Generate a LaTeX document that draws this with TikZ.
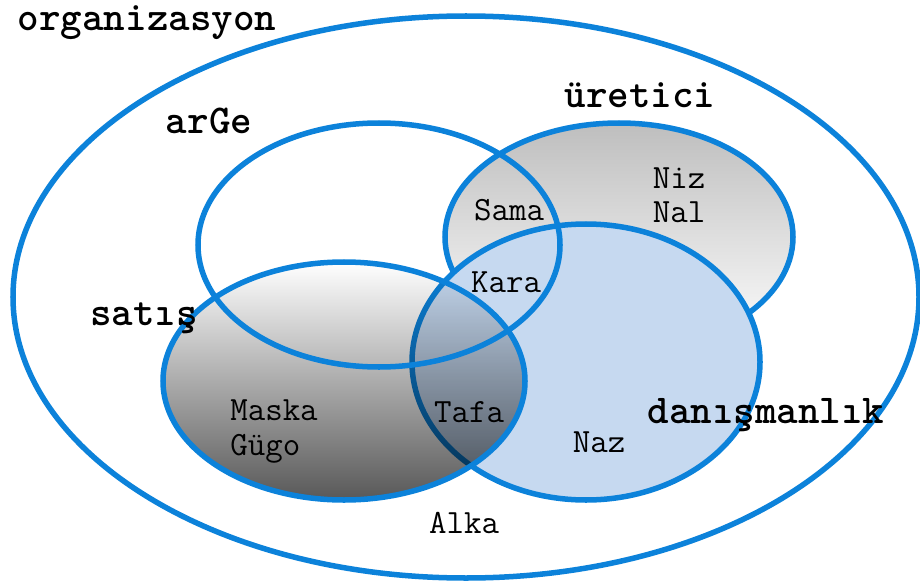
\documentclass[tikz,border=0pt]{standalone}
\usepackage{fontspec}
\usepackage{tikz}
\definecolor{vennblue}{RGB}{12,130,218}
\definecolor{danisblue}{RGB}{198,217,240}
\definecolor{uretgray}{RGB}{190,190,190}
\definecolor{satisgray}{RGB}{88,88,88}

\begin{document}
\begin{tikzpicture}[x=0.03cm, y=-0.03cm,
    venn/.style={draw=vennblue, line width=4.7pt},
    setname/.style={font=\ttfamily\bfseries\fontsize{35}{40}\selectfont, inner sep=0pt, anchor=base},
    member/.style={font=\ttfamily\fontsize{29}{34}\selectfont, inner sep=0pt, anchor=base}]
    \useasboundingbox (0,0) rectangle (920,588);
    \coordinate (org) at (466, 297);
    \coordinate (arge) at (379, 245);
    \coordinate (uret) at (619, 237);
    \coordinate (satis) at (344, 381);
    \coordinate (danis) at (586, 362);
    \draw [venn] (org) ellipse [x radius=453, y radius=281];
    \shade [top color=uretgray, bottom color=white] (uret) ellipse [x radius=174, y radius=114];
    \draw [venn] (uret) ellipse [x radius=174, y radius=114];
    \fill [danisblue] (danis) ellipse [x radius=174, y radius=138];
    \draw [venn] (danis) ellipse [x radius=174, y radius=138];
    \begin{scope}[blend mode=multiply]
        \shade [top color=white, bottom color=satisgray] (satis) ellipse [x radius=181, y radius=119];
    \end{scope}
    \draw [venn] (satis) ellipse [x radius=181, y radius=119];
    \draw [venn] (arge) ellipse [x radius=181, y radius=122];
    % set names
    \node [setname] (orgname) at (147, 31) {organizasyon};
    \node [setname] (argename) at (209, 133) {arGe};
    \node [setname] (uretname) at (640, 107) {üretici};
    \node [setname] (satisname) at (144, 325) {satış};
    \node [setname] (danisname) at (766, 423) {danışmanlık};
    % members
    \node [member] (sama) at (509, 220) {Sama};
    \node [member] (niz) at (679, 188) {Niz};
    \node [member] (nal) at (679, 222) {Nal};
    \node [member] (kara) at (506, 292) {Kara};
    \node [member] (maska) at (274, 420) {Maska};
    \node [member, anchor=base west] (gugo) at (maska.base west |- 0,455) {Gügo};
    \node [member] (tafa) at (469, 422) {Tafa};
    \node [member] (naz) at (599, 452) {Naz};
    \node [member] (alka) at (464, 533) {Alka};
\end{tikzpicture}
\end{document}
